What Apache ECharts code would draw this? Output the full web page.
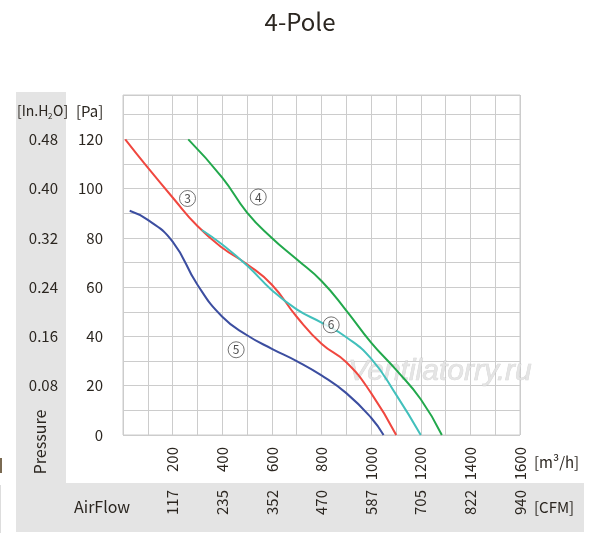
<!DOCTYPE html>
<html>
<head>
<meta charset="utf-8">
<script src="https://cdn.jsdelivr.net/npm/echarts@6/dist/echarts.min.js"></script>
<style>
  html, body { margin: 0; padding: 0; background: #fff; }
  #chart { width: 600px; height: 548px; }
</style>
</head>
<body>
<div id="chart"></div>
<script>
var dom = document.getElementById("chart");
var myChart = echarts.init(dom);

// airflow ticks [m3/h] and the matching CFM labels
var flowTicks = [200, 400, 600, 800, 1000, 1200, 1400, 1600];
var cfmLabels = ['117', '235', '352', '470', '587', '705', '822', '940'];
// pressure ticks [Pa] and inches of water
var paTicks = [0, 20, 40, 60, 80, 100, 120];
var inH2OLabels = ['', '0.08', '0.16', '0.24', '0.32', '0.40', '0.48'];

// curves: [m3/h, Pa]
var curve3 = [[9, 120], [100, 108.5], [200, 96.4], [300, 84.8], [400, 76], [500, 69.3], [600, 61], [700, 48], [800, 37], [900, 29.5], [1000, 17], [1101, 0]];
var curve4 = [[263, 120], [400, 104.5], [500, 90.3], [600, 80], [700, 71.3], [800, 62.5], [900, 50.5], [1000, 37.5], [1100, 26.5], [1200, 14.5], [1285, 0]];
var curve5 = [[27, 91], [100, 87.3], [200, 78.5], [300, 61], [400, 48], [500, 40.5], [600, 35], [700, 30], [800, 24.2], [900, 17], [1000, 7], [1050, 0]];
var curve6 = [[318, 83.2], [400, 77.3], [500, 68.8], [600, 58.8], [700, 51], [800, 45.6], [900, 39.7], [1000, 31], [1100, 16.5], [1200, 0]];
var curveNames = ['3', '4', '5', '6'];
var curveLabelAt = [[260, 96], [545, 96.6], [456, 34.6], [839, 44.7]];

var textColor = '#2b2620';
var fontFam = 'Noto Sans CJK SC';

function lineSeries(data, color) {
  return {
    type: 'line',
    data: data,
    smooth: 0.5,
    symbol: 'none',
    lineStyle: { color: color, width: 2 },
    z: 3
  };
}

option = {
  animation: false,
  title: {
    text: '4-Pole',
    left: 'center',
    top: 5,
    textStyle: { color: textColor, fontSize: 24, fontWeight: 'normal', fontFamily: fontFam }
  },
  grid: { left: 123, right: 80, top: 95, bottom: 113, show: true, borderColor: '#cccccc', borderWidth: 1 },
  xAxis: [
    {
      type: 'value', min: 0, max: 1600, interval: 100,
      axisLine: { show: false }, axisTick: { show: false },
      splitLine: { show: true, lineStyle: { color: '#cccccc', width: 1 } },
      axisLabel: {
        rotate: 90, margin: 12, fontSize: 15, color: textColor, fontFamily: fontFam,
        formatter: function (v) { return flowTicks.indexOf(v) >= 0 ? String(v) : ''; }
      }
    },
    {
      type: 'value', min: 0, max: 1600, interval: 100, position: 'bottom', offset: 43,
      axisLine: { show: false }, axisTick: { show: false }, splitLine: { show: false },
      axisLabel: {
        rotate: 90, margin: 12, fontSize: 15, color: textColor, fontFamily: fontFam,
        formatter: function (v) {
          var i = flowTicks.indexOf(v);
          return i >= 0 ? cfmLabels[i] : '';
        }
      }
    }
  ],
  yAxis: [
    {
      type: 'value', min: 0, max: 138, interval: 10,
      axisLine: { show: false }, axisTick: { show: false },
      splitLine: { show: true, lineStyle: { color: '#cccccc', width: 1 } },
      axisLabel: {
        margin: 20, fontSize: 15, color: textColor, fontFamily: fontFam,
        formatter: function (v) { return paTicks.indexOf(v) >= 0 ? String(v) : ''; }
      }
    },
    {
      type: 'value', min: 0, max: 138, interval: 10, position: 'left', offset: 45,
      axisLine: { show: false }, axisTick: { show: false }, splitLine: { show: false },
      axisLabel: {
        margin: 20, fontSize: 15, color: textColor, fontFamily: fontFam,
        formatter: function (v) {
          var i = paTicks.indexOf(v);
          return i >= 0 ? inH2OLabels[i] : '';
        }
      }
    }
  ],
  graphic: [
    { type: 'rect', shape: { x: 16, y: 92, width: 50, height: 392 }, style: { fill: '#e4e4e4' }, z: -10 },
    { type: 'rect', shape: { x: 16, y: 483, width: 568, height: 49 }, style: { fill: '#e4e4e4' }, z: -10 },
    { type: 'rect', shape: { x: 0, y: 458, width: 2, height: 15 }, style: { fill: '#7a6a52' }, z: -10 },
    { type: 'rect', shape: { x: 0, y: 485, width: 1, height: 48 }, style: { fill: '#dddddd' }, z: -10 },
    { type: 'text', left: 17, top: 104, z: 5, style: { text: '[In.H', fill: textColor, font: '14px "' + fontFam + '"' } },
    { type: 'text', left: 48, top: 112, z: 5, style: { text: '2', fill: textColor, font: '8px "' + fontFam + '"' } },
    { type: 'text', left: 53, top: 104, z: 5, style: { text: 'O]', fill: textColor, font: '14px "' + fontFam + '"' } },
    { type: 'text', left: 76, top: 104, z: 5, style: { text: '[Pa]', fill: textColor, font: '15px "' + fontFam + '"' } },
    {
      type: 'text', x: 40, y: 442, rotation: Math.PI / 2, z: 5,
      style: { text: 'Pressure', fill: textColor, font: '16px "' + fontFam + '"', align: 'center', verticalAlign: 'middle' }
    },
    { type: 'text', left: 74, top: 499, z: 5, style: { text: 'AirFlow', fill: textColor, font: '16px "' + fontFam + '"' } },
    { type: 'text', left: 534, top: 455, z: 5, style: { text: '[m³/h]', fill: textColor, font: '15px "' + fontFam + '"' } },
    { type: 'text', left: 534, top: 500, z: 5, style: { text: '[CFM]', fill: textColor, font: '15px "' + fontFam + '"' } },
    {
      type: 'text', x: 440, y: 372, z: 1,
      style: {
        text: 'Ventilatorry.ru', fill: 'rgba(225,225,225,0.85)', font: 'italic 30px "Liberation Sans"',
        align: 'center', verticalAlign: 'middle',
        stroke: 'rgba(175,175,175,0.55)', lineWidth: 0.6,
        shadowColor: 'rgba(0,0,0,0.15)', shadowBlur: 2, shadowOffsetX: 1, shadowOffsetY: 1
      }
    }
  ],
  series: [
    lineSeries(curve3, '#f0473f'),
    lineSeries(curve4, '#22a84c'),
    lineSeries(curve5, '#3c4ea0'),
    lineSeries(curve6, '#42c0bc'),
    {
      type: 'scatter',
      data: curveLabelAt.map(function (p, i) { return { value: p, name: curveNames[i] }; }),
      symbol: 'circle', symbolSize: 16,
      itemStyle: { color: '#ffffff', borderColor: '#222', borderWidth: 0.8 },
      label: {
        show: true, position: 'inside', formatter: function (p) { return p.name; },
        color: '#222', fontSize: 12, fontFamily: fontFam
      },
      z: 4
    }
  ]
};

if (option && typeof option === "object") {
  myChart.setOption(option, true);
}
</script>
</body>
</html>
